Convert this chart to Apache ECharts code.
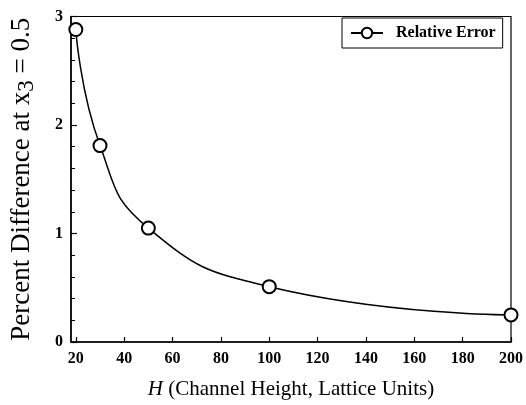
<!DOCTYPE html>
<html>
<head>
<meta charset="utf-8">
<script src="https://cdn.jsdelivr.net/npm/echarts@6/dist/echarts.min.js"></script>
<style>
  html, body { margin: 0; padding: 0; background: #fff; }
  #chart { width: 526px; height: 405px; }
</style>
</head>
<body>
<div id="chart"></div>
<script>
// Channel height H (lattice units) and relative error at x3 = 0.5 (%)
const channelHeight = [20, 30, 50, 100, 200];
const relativeError = [2.88, 1.81, 1.05, 0.51, 0.25];
const xTicks = [20, 40, 60, 80, 100, 120, 140, 160, 180, 200];
const seriesName = 'Relative Error';

const serif = '"Liberation Serif", "DejaVu Serif", serif';

const chart = echarts.init(document.getElementById('chart'), null, { renderer: 'canvas' });

chart.setOption({
  animation: false,
  backgroundColor: '#fff',
  grid: {
    left: 69.5, right: 14.5, top: 16.5, bottom: 58.5,
    show: true, borderColor: '#000', borderWidth: 1.2, backgroundColor: 'transparent'
  },
  legend: {
    left: 342, top: 18,
    data: [seriesName],
    itemWidth: 32, itemHeight: 13,
    padding: [7, 7, 7, 8],
    borderColor: '#000', borderWidth: 1,
    textStyle: {
      fontFamily: serif, fontWeight: 'bold', fontSize: 16, color: '#000',
      padding: [0, 0, 0, 8]
    }
  },
  xAxis: {
    type: 'value', min: 18, max: 200,
    name: '{i|H} (Channel Height, Lattice Units)',
    nameLocation: 'middle', nameGap: 37,
    nameTextStyle: {
      fontFamily: serif, fontSize: 21, color: '#000',
      rich: { i: { fontFamily: serif, fontSize: 21, fontStyle: 'italic', color: '#000' } }
    },
    axisLine: { lineStyle: { color: '#000', width: 1.5 } },
    axisTick: { inside: true, length: 5, customValues: xTicks, lineStyle: { color: '#000', width: 1.2 } },
    axisLabel: { customValues: xTicks, margin: 9, fontFamily: serif, fontWeight: 'bold', fontSize: 16, color: '#000' },
    splitLine: { show: false }
  },
  yAxis: {
    type: 'value', min: 0, max: 3, interval: 1,
    name: 'Percent Difference at x{sub|3} = 0.5',
    nameLocation: 'middle', nameGap: 33,
    nameTextStyle: {
      fontFamily: serif, fontSize: 27, color: '#000',
      rich: { sub: { fontFamily: serif, fontSize: 23, color: '#000', padding: [10, 0, 0, 0] } }
    },
    axisLine: { show: true, lineStyle: { color: '#000', width: 1.5 } },
    axisTick: { inside: true, length: 6, lineStyle: { color: '#000', width: 1.2 } },
    minorTick: { show: true, splitNumber: 5, length: 4, lineStyle: { color: '#000', width: 1 } },
    axisLabel: { margin: 8, fontFamily: serif, fontWeight: 'bold', fontSize: 16, color: '#000' },
    splitLine: { show: false }
  },
  series: [{
    name: seriesName,
    type: 'line',
    data: channelHeight.map((h, i) => [h, relativeError[i]]),
    smooth: 0.5,
    symbol: 'emptyCircle',
    symbolSize: 13,
    color: '#000',
    lineStyle: { color: '#000', width: 1.5 },
    itemStyle: { color: '#000', borderColor: '#000', borderWidth: 1.2 }
  }]
});
</script>
</body>
</html>
